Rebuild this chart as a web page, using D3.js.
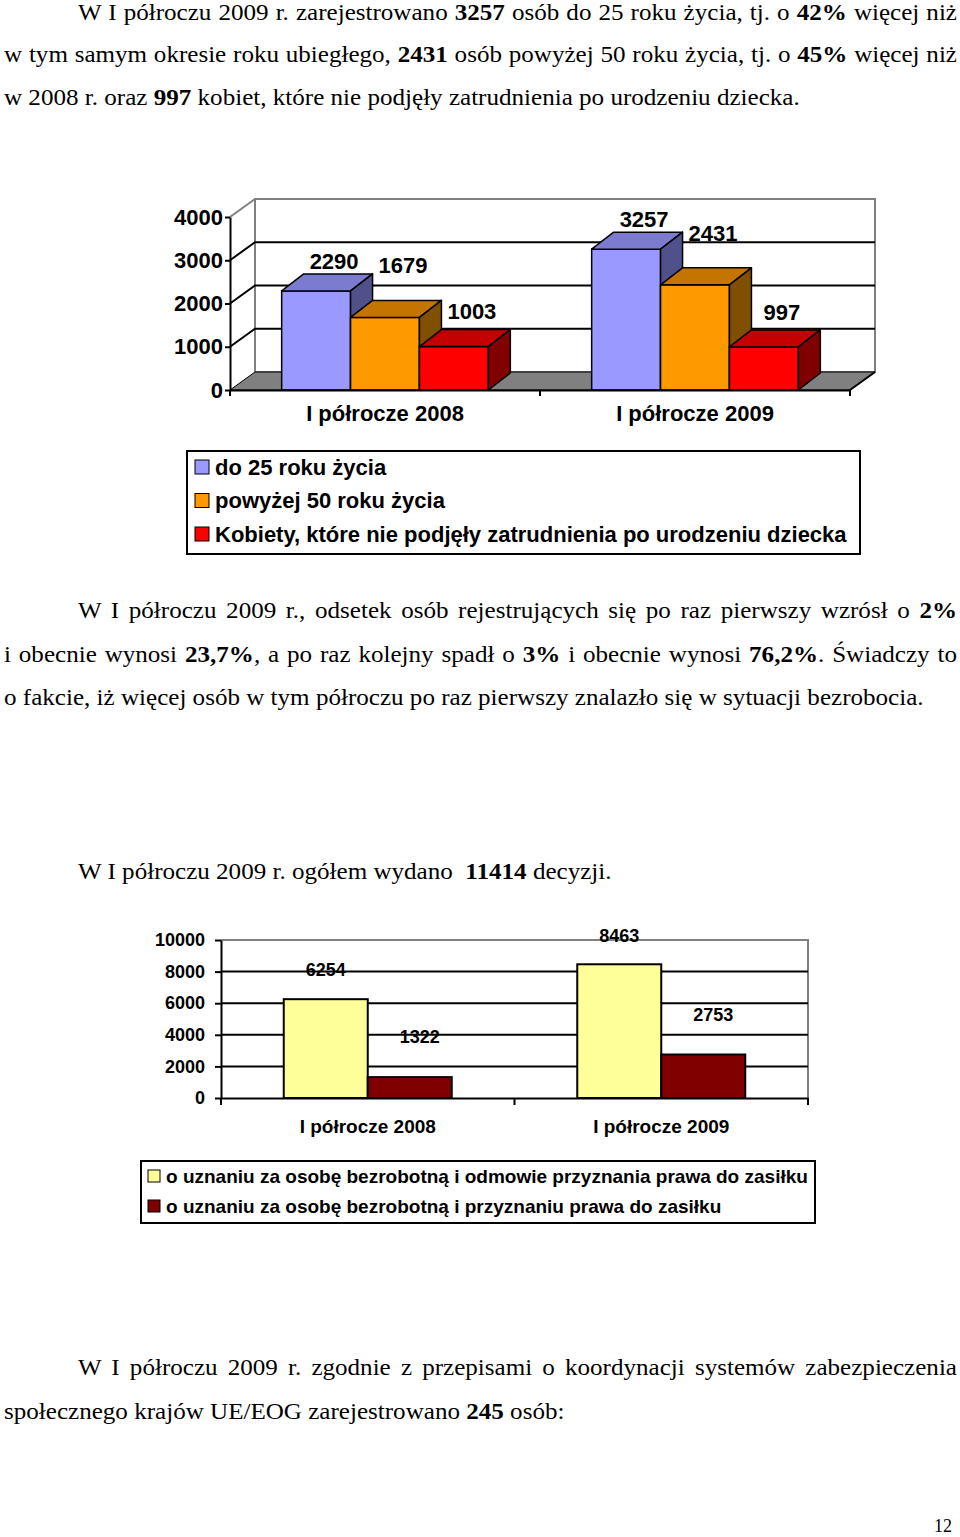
<!DOCTYPE html>
<html>
<head>
<meta charset="utf-8">
<script src="https://cdn.jsdelivr.net/npm/d3@7"></script>
<style>
  body { margin: 0; background: #fff; }
  #page { position: relative; width: 960px; height: 1537px; overflow: hidden; }
  .line {
    position: absolute; white-space: nowrap;
    font-family: 'Liberation Serif', 'Times New Roman', serif; font-size: 23px;
    color: #000; line-height: 26px;
    transform-origin: 0 0;
  }
  .just { text-align: justify; text-align-last: justify; }
  svg { position: absolute; left: 0; top: 0; }
  svg text { font-family: 'Liberation Sans', Arial, sans-serif; font-weight: bold; fill: #000; }
</style>
</head>
<body>
<div id="page"></div>
<script>
// ---- data ----
const periods = ['I półrocze 2008', 'I półrocze 2009'];

// chart 1: registered unemployed in special groups
const ageSeries = ['do 25 roku życia', 'powyżej 50 roku życia', 'Kobiety, które nie podjęły zatrudnienia po urodzeniu dziecka'];
const under25 = [2290, 3257];
const over50 = [1679, 2431];
const womenAfterBirth = [1003, 997];
const ticks1 = [0, 1000, 2000, 3000, 4000];

// chart 2: decisions issued
const decisionSeries = ['o uznaniu za osobę bezrobotną i odmowie przyznania prawa do zasiłku', 'o uznaniu za osobę bezrobotną i przyznaniu prawa do zasiłku'];
const refusedBenefit = [6254, 8463];
const grantedBenefit = [1322, 2753];
const ticks2 = [0, 2000, 4000, 6000, 8000, 10000];

// text of the page: [top, left, width, justified, html]
const textLines = [
  [0, 78, 879, true, 'W I półroczu 2009 r. zarejestrowano <b>3257</b> osób do 25 roku życia, tj. o <b>42%</b> więcej niż'],
  [42, 4, 953, true, 'w tym samym okresie roku ubiegłego, <b>2431</b> osób powyżej 50 roku życia, tj. o <b>45%</b> więcej niż'],
  [85, 4, 0, false, 'w 2008 r. oraz <b>997</b> kobiet, które nie podjęły zatrudnienia po urodzeniu dziecka.'],
  [598, 78, 879, true, 'W I półroczu 2009 r., odsetek osób rejestrujących się po raz pierwszy wzrósł o <b>2%</b>'],
  [642, 4, 953, true, 'i obecnie wynosi <b>23,7%</b>, a po raz kolejny spadł o <b>3%</b> i obecnie wynosi <b>76,2%</b>. Świadczy to'],
  [685, 4, 0, false, 'o fakcie, iż więcej osób w tym półroczu po raz pierwszy znalazło się w sytuacji bezrobocia.'],
  [859, 78, 0, false, 'W I półroczu 2009 r. ogółem wydano&nbsp; <b>11414</b> decyzji.'],
  [1355, 78, 879, true, 'W I półroczu 2009 r. zgodnie z przepisami o koordynacji systemów zabezpieczenia'],
  [1399, 4, 0, false, 'społecznego krajów UE/EOG zarejestrowano <b>245</b> osób:']
];
const textStretch = 1.09;

const page = d3.select('#page');

page.selectAll('div.line')
  .data(textLines)
  .enter()
  .append('div')
  .attr('class', d => d[3] ? 'line just' : 'line')
  .style('top', d => d[0] + 'px')
  .style('left', d => d[1] + 'px')
  .style('width', d => d[3] ? (d[2] / textStretch) + 'px' : null)
  .style('transform', `scaleX(${textStretch})`)
  .html(d => d[4]);

page.append('div')
  .attr('class', 'line')
  .style('top', '1517px')
  .style('left', '934px')
  .style('font-size', '18px')
  .style('line-height', '18px')
  .text('12');

const svg = page.append('svg').attr('width', 960).attr('height', 1537);

// ============ chart 1 (3D clustered columns) ============
const c1 = { left: 230, right: 850, bottom: 390, top: 217, dx: 25, dy: -18, bdx: 22, bdy: -17 };
const y1 = d3.scaleLinear().domain([0, 4000]).range([c1.bottom, c1.top]);
const x1 = d3.scaleBand().domain(periods).range([c1.left, c1.right]);
const x1s = d3.scaleBand().domain(d3.range(3)).range([0, x1.bandwidth()]).paddingOuter(0.75);

const faces1 = [
  { front: '#9999ff', top: '#7b7bd0', side: '#50508a' },
  { front: '#ff9900', top: '#c47500', side: '#805000' },
  { front: '#ff0000', top: '#c40000', side: '#800000' }
];
const labelNudge1 = [-13, -35, -18];
const fs1 = 22;

const g1 = svg.append('g');

// back wall
g1.append('rect')
  .attr('x', c1.left + c1.dx).attr('y', c1.top + c1.dy)
  .attr('width', c1.right - c1.left).attr('height', c1.bottom - c1.top)
  .attr('fill', '#fff').attr('stroke', '#808080').attr('stroke-width', 2);

// left wall top edge
g1.append('path')
  .attr('d', `M${c1.left},${c1.top}L${c1.left + c1.dx},${c1.top + c1.dy}`)
  .attr('stroke', '#808080').attr('stroke-width', 2).attr('fill', 'none');

// gridlines (side wall + back wall)
g1.selectAll('path.grid')
  .data(ticks1.filter(t => t > 0 && t < 4000))
  .enter()
  .append('path')
  .attr('class', 'grid')
  .attr('d', t => `M${c1.left},${y1(t)}L${c1.left + c1.dx},${y1(t) + c1.dy}H${c1.right + c1.dx}`)
  .attr('stroke', '#000').attr('stroke-width', 2).attr('fill', 'none');

// floor
g1.append('path')
  .attr('d', `M${c1.left},${c1.bottom}L${c1.right},${c1.bottom}L${c1.right + c1.dx},${c1.bottom + c1.dy}L${c1.left + c1.dx},${c1.bottom + c1.dy}Z`)
  .attr('fill', '#808080').attr('stroke', '#000').attr('stroke-width', 1);

// bars
const bars1 = [];
periods.forEach((p, i) => {
  [under25, over50, womenAfterBirth].forEach((arr, s) => {
    bars1.push({ period: p, s, value: arr[i] });
  });
});

const bar1 = g1.selectAll('g.bar')
  .data(bars1)
  .enter()
  .append('g')
  .attr('class', 'bar');

const bx = d => x1(d.period) + x1s(d.s);
const bw = x1s.bandwidth();

bar1.append('rect')
  .attr('x', bx).attr('y', d => y1(d.value))
  .attr('width', bw).attr('height', d => c1.bottom - y1(d.value))
  .attr('fill', d => faces1[d.s].front).attr('stroke', '#000').attr('stroke-width', 1.5);

bar1.append('path')
  .attr('d', d => {
    const x = bx(d), y = y1(d.value);
    return `M${x},${y}L${x + bw},${y}L${x + bw + c1.bdx},${y + c1.bdy}L${x + c1.bdx},${y + c1.bdy}Z`;
  })
  .attr('fill', d => faces1[d.s].top).attr('stroke', '#000').attr('stroke-width', 1.5).attr('stroke-linejoin', 'round');

bar1.append('path')
  .attr('d', d => {
    const x = bx(d) + bw, y = y1(d.value);
    return `M${x},${y}L${x + c1.bdx},${y + c1.bdy}L${x + c1.bdx},${c1.bottom + c1.bdy}L${x},${c1.bottom}Z`;
  })
  .attr('fill', d => faces1[d.s].side).attr('stroke', '#000').attr('stroke-width', 1.5).attr('stroke-linejoin', 'round');

// value labels
g1.selectAll('text.val')
  .data(bars1)
  .enter()
  .append('text')
  .attr('class', 'val')
  .attr('x', d => bx(d) + bw / 2 + 18)
  .attr('y', d => y1(d.value) + c1.bdy + labelNudge1[d.s])
  .attr('dy', '0.35em')
  .attr('text-anchor', 'middle')
  .attr('font-size', fs1)
  .text(d => d.value);

// y axis
const ay1 = g1.append('g')
  .attr('transform', `translate(${c1.left},0)`)
  .call(d3.axisLeft(y1).tickValues(ticks1).tickFormat(d3.format('d')).tickSize(5).tickPadding(2).tickSizeOuter(0));
ay1.select('.domain').attr('stroke', '#000').attr('stroke-width', 2);
ay1.selectAll('.tick line').attr('stroke', '#000').attr('stroke-width', 2);
ay1.selectAll('.tick text').attr('font-size', fs1).attr('font-family', null);

// x axis
const ax1 = g1.append('g')
  .attr('transform', `translate(0,${c1.bottom})`)
  .call(d3.axisBottom(x1).tickSize(0).tickSizeOuter(0));
ax1.select('.domain').attr('stroke', '#000').attr('stroke-width', 2);
ax1.selectAll('.tick text').attr('font-size', fs1).attr('font-family', null).attr('y', 23).attr('dy', '0.35em');
g1.selectAll('line.xtick')
  .data([c1.left, x1(periods[1]), c1.right])
  .enter()
  .append('line')
  .attr('class', 'xtick')
  .attr('x1', d => d).attr('x2', d => d)
  .attr('y1', c1.bottom).attr('y2', c1.bottom + 6)
  .attr('stroke', '#000').attr('stroke-width', 2);
g1.append('path')
  .attr('d', `M${c1.right},${c1.bottom}L${c1.right + c1.dx},${c1.bottom + c1.dy}`)
  .attr('stroke', '#000').attr('stroke-width', 2);

// legend 1
const leg1 = svg.append('g').attr('transform', 'translate(187,451)');
leg1.append('rect').attr('width', 673).attr('height', 103)
  .attr('fill', '#fff').attr('stroke', '#000').attr('stroke-width', 2);
const li1 = leg1.selectAll('g.item')
  .data(ageSeries)
  .enter()
  .append('g')
  .attr('class', 'item')
  .attr('transform', (d, i) => `translate(8,${16 + i * 33.5})`);
li1.append('rect').attr('x', 0).attr('y', -7).attr('width', 14).attr('height', 14)
  .attr('fill', (d, i) => faces1[i].front).attr('stroke', '#000').attr('stroke-width', 1);
li1.append('text').attr('x', 20).attr('dy', '0.35em').attr('font-size', fs1).text(d => d);

// ============ chart 2 (2D clustered columns) ============
const c2 = { left: 221, right: 808, bottom: 1098, top: 940 };
const y2 = d3.scaleLinear().domain([0, 10000]).range([c2.bottom, c2.top]);
const x2 = d3.scaleBand().domain(periods).range([c2.left, c2.right]);
const x2s = d3.scaleBand().domain(d3.range(2)).range([0, x2.bandwidth()]).paddingOuter(0.747);
const colors2 = ['#ffff99', '#800000'];
const labelNudge2 = [[0, -29], [10, -40]];
const fs2 = 19;

const g2 = svg.append('g');

// plot border (top / right)
g2.append('path')
  .attr('d', `M${c2.left},${c2.top}H${c2.right}V${c2.bottom}`)
  .attr('stroke', '#808080').attr('stroke-width', 2).attr('fill', 'none');

g2.selectAll('line.grid')
  .data(ticks2.filter(t => t > 0 && t < 10000))
  .enter()
  .append('line')
  .attr('class', 'grid')
  .attr('x1', c2.left).attr('x2', c2.right)
  .attr('y1', t => y2(t)).attr('y2', t => y2(t))
  .attr('stroke', '#000').attr('stroke-width', 2);

const bars2 = [];
periods.forEach((p, i) => {
  [refusedBenefit, grantedBenefit].forEach((arr, s) => bars2.push({ period: p, s, value: arr[i] }));
});

g2.selectAll('rect.bar')
  .data(bars2)
  .enter()
  .append('rect')
  .attr('class', 'bar')
  .attr('x', d => x2(d.period) + x2s(d.s))
  .attr('y', d => y2(d.value))
  .attr('width', x2s.bandwidth())
  .attr('height', d => c2.bottom - y2(d.value))
  .attr('fill', d => colors2[d.s]).attr('stroke', '#000').attr('stroke-width', 2);

g2.selectAll('text.val')
  .data(bars2)
  .enter()
  .append('text')
  .attr('class', 'val')
  .attr('x', d => x2(d.period) + x2s(d.s) + x2s.bandwidth() / 2 + labelNudge2[d.s][0])
  .attr('y', d => y2(d.value) + labelNudge2[d.s][1])
  .attr('dy', '0.35em')
  .attr('text-anchor', 'middle')
  .attr('font-size', fs2 - 1)
  .text(d => d.value);

const ay2 = g2.append('g')
  .attr('transform', `translate(${c2.left},0)`)
  .call(d3.axisLeft(y2).tickValues(ticks2).tickFormat(d3.format('d')).tickSize(6).tickPadding(10).tickSizeOuter(0));
ay2.select('.domain').attr('stroke', '#000').attr('stroke-width', 2);
ay2.selectAll('.tick line').attr('stroke', '#000').attr('stroke-width', 2);
ay2.selectAll('.tick text').attr('font-size', fs2 - 1).attr('font-family', null);

const ax2 = g2.append('g')
  .attr('transform', `translate(0,${c2.bottom})`)
  .call(d3.axisBottom(x2).tickSize(0).tickSizeOuter(0));
ax2.select('.domain').attr('stroke', '#000').attr('stroke-width', 2);
ax2.selectAll('.tick text').attr('font-size', fs2).attr('font-family', null).attr('y', 28).attr('dy', '0.35em');
g2.selectAll('line.xtick')
  .data([c2.left, x2(periods[1]), c2.right])
  .enter()
  .append('line')
  .attr('class', 'xtick')
  .attr('x1', d => d).attr('x2', d => d)
  .attr('y1', c2.bottom).attr('y2', c2.bottom + 7)
  .attr('stroke', '#000').attr('stroke-width', 2);

// legend 2
const leg2 = svg.append('g').attr('transform', 'translate(141,1161)');
leg2.append('rect').attr('width', 674).attr('height', 62)
  .attr('fill', '#fff').attr('stroke', '#000').attr('stroke-width', 2);
const li2 = leg2.selectAll('g.item')
  .data(decisionSeries)
  .enter()
  .append('g')
  .attr('class', 'item')
  .attr('transform', (d, i) => `translate(7,${15 + i * 30})`);
li2.append('rect').attr('x', 0).attr('y', -6).attr('width', 12).attr('height', 12)
  .attr('fill', (d, i) => colors2[i]).attr('stroke', '#000').attr('stroke-width', 1);
li2.append('text').attr('x', 18).attr('dy', '0.35em').attr('font-size', fs2).text(d => d);
</script>
</body>
</html>
